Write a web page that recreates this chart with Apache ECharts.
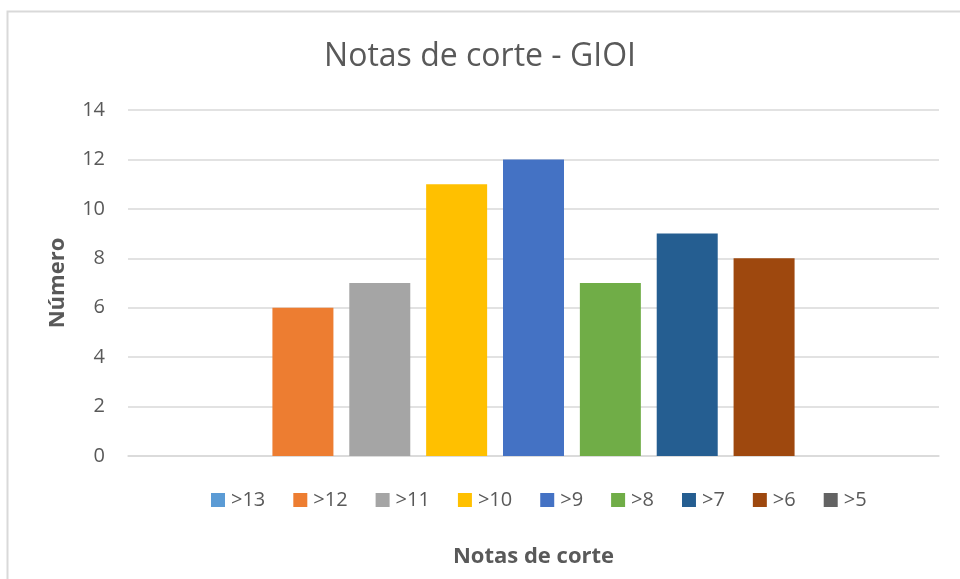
<!DOCTYPE html>
<html>
<head>
<meta charset="utf-8">
<script src="https://cdn.jsdelivr.net/npm/echarts@6/dist/echarts.min.js"></script>
<style>
  html, body { margin: 0; padding: 0; background: #fff; }
  #main { width: 960px; height: 579px; }
</style>
</head>
<body>
<div id="main"></div>
<script>
// data
var seriesNames = [">13", ">12", ">11", ">10", ">9", ">8", ">7", ">6", ">5"];
var seriesValues = [0, 6, 7, 11, 12, 7, 9, 8, 0];
var seriesColors = ["#5B9BD5", "#ED7D31", "#A5A5A5", "#FFC000", "#4472C4", "#70AD47", "#255E91", "#9E480E", "#636363"];
var categories = [""];

var font = "Open Sans";
var myChart = echarts.init(document.getElementById("main"));

var series = [];
for (var i = 0; i < seriesNames.length; i++) {
  series.push({
    name: seriesNames[i],
    type: "bar",
    data: [seriesValues[i]],
    barWidth: 61,
    barGap: "26%",
    itemStyle: { color: seriesColors[i] }
  });
}

var option = {
  animation: false,
  graphic: [{
    type: "rect",
    shape: { x: 7.5, y: 11.5, width: 980, height: 600 },
    style: { fill: "none", stroke: "#d9d9d9", lineWidth: 2 },
    silent: true
  }],
  title: {
    text: "Notas de corte - GIOI",
    left: "center",
    top: 36,
    padding: [5, 5, 5, 17],
    textStyle: { fontFamily: font, fontSize: 32, fontWeight: "normal", color: "#595959" }
  },
  legend: {
    data: seriesNames,
    left: 211,
    top: 490,
    padding: 0,
    itemWidth: 14,
    itemHeight: 14,
    itemGap: 28,
    icon: "rect",
    textStyle: { fontFamily: font, fontSize: 20, color: "#595959", padding: [0, 0, 0, 1] }
  },
  grid: {
    left: 128,
    right: 21,
    top: 110,
    bottom: 123
  },
  xAxis: {
    type: "category",
    data: categories,
    name: "Notas de corte",
    nameLocation: "middle",
    nameGap: 90,
    nameTextStyle: { fontFamily: font, fontSize: 22, fontWeight: "bold", color: "#595959" },
    axisLine: { lineStyle: { color: "#d9d9d9", width: 1.5 } },
    axisTick: { show: false },
    axisLabel: { show: false }
  },
  yAxis: {
    type: "value",
    min: 0,
    max: 14,
    interval: 2,
    name: "Número",
    nameLocation: "middle",
    nameGap: 59,
    nameTextStyle: { fontFamily: font, fontSize: 22, fontWeight: "bold", color: "#595959" },
    axisLine: { show: false },
    axisTick: { show: false },
    axisLabel: { fontFamily: font, fontSize: 20, color: "#595959", margin: 23 },
    splitLine: { lineStyle: { color: "#d9d9d9", width: 1.5 } }
  },
  series: series
};

myChart.setOption(option);
</script>
</body>
</html>
